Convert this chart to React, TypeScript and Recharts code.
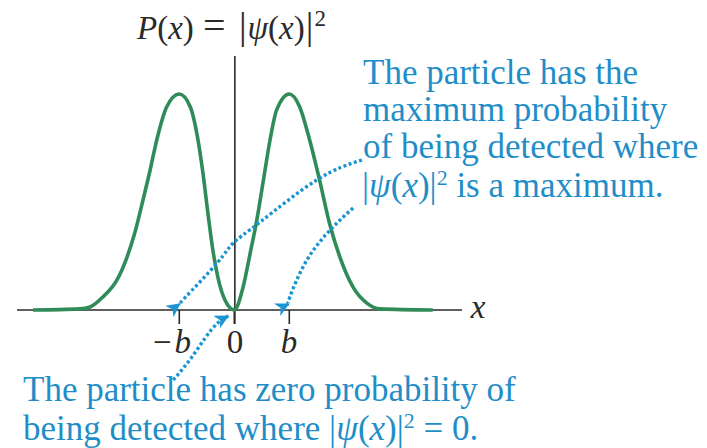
import { LineChart, Line, XAxis, YAxis, ReferenceLine, Customized } from 'recharts';

const curveX = [-3.66, -2.81, -2.62, -2.39, -2.13, -1.95, -1.81, -1.66, -1.53, -1.41, -1.23, -1.0, -0.8, -0.66, -0.57, -0.48, -0.39, -0.3, -0.17, 0, 0.16, 0.29, 0.41, 0.53, 0.65, 0.77, 1.0, 1.19, 1.37, 1.55, 1.73, 1.92, 2.16, 2.41, 2.65, 3.61];
const curveP = [0, 0.005, 0.014, 0.06, 0.14, 0.245, 0.356, 0.509, 0.648, 0.787, 0.94, 1.0, 0.94, 0.787, 0.634, 0.449, 0.278, 0.153, 0.046, 0, 0.106, 0.264, 0.417, 0.602, 0.787, 0.926, 1.0, 0.94, 0.787, 0.602, 0.403, 0.245, 0.106, 0.032, 0.005, 0];

// dotted call-out arrows, same units as the curve
const arrowMinusBX = [2.32, 1.5, 0.47, -0.02, -0.31, -0.9, -0.99];
const arrowMinusBY = [0.694, 0.602, 0.407, 0.31, 0.218, 0.056, 0.028];
const arrowPlusBX = [2.16, 1.78, 1.32, 1.01, 0.99];
const arrowPlusBY = [0.472, 0.38, 0.231, 0.06, 0.028];
const arrowZeroX = [-1.11, -0.81, -0.53, -0.3, -0.11];
const arrowZeroY = [-0.324, -0.231, -0.13, -0.06, -0.028];

const tickValues = [-1, 0, 1];

const toRows = (xs: number[], ys: number[]) => xs.map((x, i) => ({ x, y: ys[i] }));

const curveRows = toRows(curveX, curveP);

const W = 707;
const H = 448;
const GREEN = '#2f8c58';
const BLUE = '#1f8ec8';
const ARROW = '#1a94d2';
const INK = '#2a2a2a';
const FONT = "'Liberation Serif', 'Times New Roman', serif";

const it = { fontStyle: 'italic' as const };
const serif = (size: number) => ({ fontFamily: FONT, fontSize: size });

// |ψ(x)|² written inline, followed by the rest of the line
function PsiSquared({ rest }: { rest: string }) {
  return (
    <>
      <tspan>|</tspan><tspan {...it}>ψ</tspan>(<tspan {...it}>x</tspan>)|
      <tspan dy={-12} fontSize={22}>2</tspan>
      <tspan dy={12}>{rest}</tspan>
    </>
  );
}

function Annotations() {
  return (
    <g>
      <text x={137} y={39} style={serif(33)} fill={INK}>
        <tspan {...it}>P</tspan>(<tspan {...it}>x</tspan>)
        <tspan x={203} fontSize={40}>=</tspan>
        <tspan x={239} fontSize={38}>|</tspan><tspan {...it} dx={1}>ψ</tspan>(<tspan {...it}>x</tspan>)
        <tspan dx={1} fontSize={38}>|</tspan>
        <tspan dy={-13} dx={1} fontSize={23}>2</tspan>
      </text>

      <text x={478} y={318} style={serif(33)} fill={INK} textAnchor="middle" {...it}>x</text>
      <text x={191} y={353} style={serif(33)} fill={INK} textAnchor="end">
        −<tspan dx={3} {...it}>b</tspan>
      </text>
      <text x={235} y={353} style={serif(33)} fill={INK} textAnchor="middle">0</text>
      <text x={289} y={353} style={serif(33)} fill={INK} textAnchor="middle" {...it}>b</text>

      <g fill={BLUE}>
        <text x={363} y={84} style={serif(35)}>The particle has the</text>
        <text x={363} y={121} style={serif(35)}>maximum probability</text>
        <text x={363} y={158} style={serif(35)}>of being detected where</text>
        <text x={362} y={197} style={serif(35)}>
          <PsiSquared rest=" is a maximum." />
        </text>
        <text x={23} y={401} style={serif(35)}>The particle has zero probability of</text>
        <text x={23} y={440} style={serif(35)}>
          being detected where <PsiSquared rest=" = 0." />
        </text>
      </g>
    </g>
  );
}

export default function App() {
  const arrows = [
    toRows(arrowMinusBX, arrowMinusBY),
    toRows(arrowPlusBX, arrowPlusBY),
    toRows(arrowZeroX, arrowZeroY),
  ];

  return (
    <div style={{ position: 'absolute', left: 0, top: 0, width: W, height: H, background: '#fff' }}>
      <svg width={0} height={0} style={{ position: 'absolute' }}>
        <defs>
          <marker id="arrowHead" markerUnits="userSpaceOnUse" markerWidth={16} markerHeight={16}
            refX={13} refY={7} orient="auto">
            <path d="M0,0 L14,7 L0,14 L4,7 z" fill={ARROW} />
          </marker>
        </defs>
      </svg>
      <LineChart width={W} height={H} margin={{ top: 0, right: 0, bottom: 0, left: 0 }}>
        <XAxis type="number" dataKey="x" domain={[-4.26, 8.595]} allowDataOverflow hide />
        <YAxis type="number" domain={[-0.639, 1.435]} allowDataOverflow hide />

        {/* axes */}
        <ReferenceLine segment={[{ x: -3.95, y: 0 }, { x: 4.14, y: 0 }]} stroke={INK} strokeWidth={1.6} ifOverflow="visible" />
        <ReferenceLine segment={[{ x: 0.01, y: 1.176 }, { x: 0.01, y: -0.065 }]} stroke={INK} strokeWidth={1.6} ifOverflow="visible" />
        {tickValues.map((t) => (
          <ReferenceLine key={t} segment={[{ x: t, y: 0 }, { x: t, y: -0.065 }]} stroke={INK} strokeWidth={1.6} ifOverflow="visible" />
        ))}

        <Line data={curveRows} dataKey="y" type="monotone" stroke={GREEN} strokeWidth={3.6}
          dot={false} activeDot={false} isAnimationActive={false} />

        {arrows.map((rows, i) => (
          <Line key={i} data={rows} dataKey="y" type="natural" stroke={ARROW} strokeWidth={3.4}
            strokeDasharray="3 2.5" markerEnd="url(#arrowHead)"
            dot={false} activeDot={false} isAnimationActive={false} />
        ))}

        <Customized component={Annotations} />
      </LineChart>
    </div>
  );
}
